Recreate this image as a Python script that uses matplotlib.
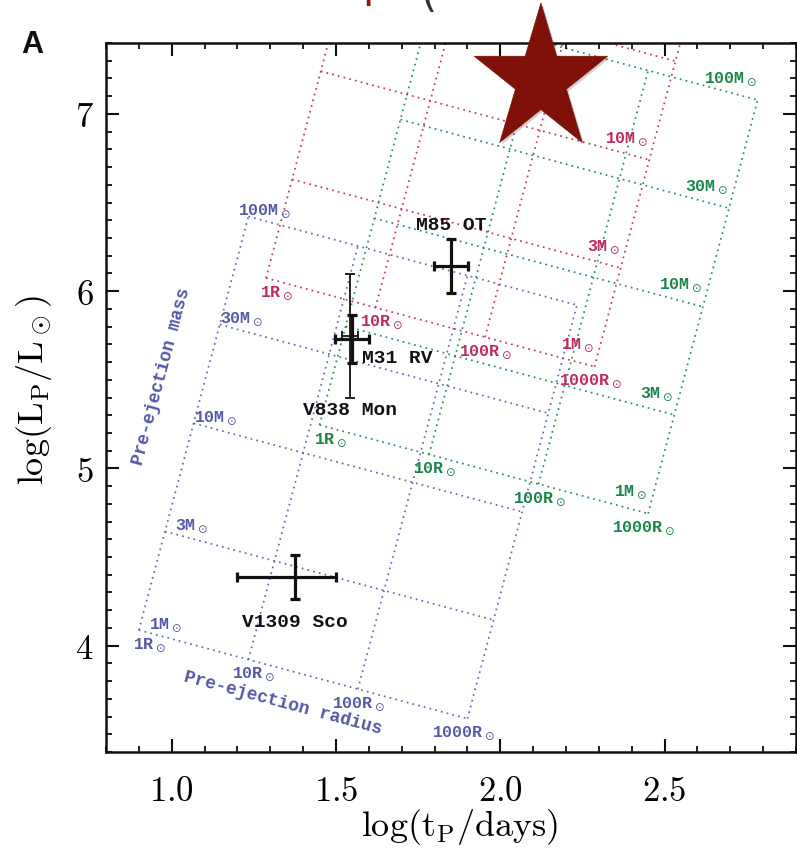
import numpy as np
import matplotlib; matplotlib.use("Agg")
import matplotlib.pyplot as plt
import matplotlib.patheffects as pe
from matplotlib.path import Path
from matplotlib.ticker import MultipleLocator

plt.rcParams["mathtext.fontset"] = "cm"

# pre-ejection grid values
MASSES = [1, 3, 10, 30, 100]          # Msun
RADII = [1, 10, 100, 1000]            # Rsun
# zero points (log t_p, log L_p) of each grid at 1 Msun, 1 Rsun
GRID_T0 = [0.900, 1.287, 1.450]
GRID_L0 = [4.088, 6.074, 5.245]
GRID_COLORS = ["#6468b8", "#cc3068", "#22915a"]
LABEL_COLORS = ["#5558a8", "#c0285e", "#1a8548"]

# observed transients
NAMES = ["V838 Mon", "M31 RV", "M85 OT", "V1309 Sco"]
LOG_T = [1.5425, 1.549, 1.850, 1.375]
LOG_T_LO = [0.025, 0.052, 0.053, 0.175]
LOG_T_HI = [0.025, 0.052, 0.053, 0.125]
LOG_L = [5.747, 5.730, 6.142, 4.387]
LOG_L_ERR = [0.350, 0.135, 0.150, 0.125]

XTICKS = [1.0, 1.5, 2.0, 2.5]
YTICKS = [4, 5, 6, 7]

INK = "#111111"
MONO = "Liberation Mono"


def plateau(t0, l0, m, r):
    """Popov plateau scaling with E ~ M^2/R: t ~ M^(1/6) R^(1/3), L ~ M^(7/6) R^(-1/6)."""
    lm, lr = np.log10(m), np.log10(r)
    return t0 + lm / 6.0 + lr / 3.0, l0 + 7.0 * lm / 6.0 - lr / 6.0


def grid_label(ax, text, xy, off, color):
    ax.annotate(text, xy, xytext=off, textcoords="offset points", ha="right", va="center",
                fontsize=12, family=MONO, fontweight="bold", color=color, clip_on=True,
                math_fontfamily="dejavusans")


fig = plt.figure(figsize=(7.97, 8.5), dpi=100)
ax = fig.add_axes([0.133, 0.1153, 0.8657, 0.8341])
ax.set_xlim(0.8, 2.9)
ax.set_ylim(3.4, 7.4)

dots = (0, (1, 2.4))
for g, (t0, l0) in enumerate(zip(GRID_T0, GRID_L0)):
    col, lcol = GRID_COLORS[g], LABEL_COLORS[g]
    r_ends = np.array([RADII[0], RADII[-1]], float)
    m_ends = np.array([MASSES[0], MASSES[-1]], float)
    for m in MASSES:
        x, y = plateau(t0, l0, m, r_ends)
        ax.plot(x, y, ls=dots, lw=1.25, color=col, zorder=1)
    for r in RADII:
        x, y = plateau(t0, l0, m_ends, r)
        ax.plot(x, y, ls=dots, lw=1.25, color=col, zorder=1)

    # radius labels under the lowest-mass line
    for r in RADII:
        x, y = plateau(t0, l0, MASSES[0], r)
        grid_label(ax, f"{r}R$_\\odot$", (x, y), (19.5, -10.8), lcol)
    # mass labels: left end for the first grid, right end for the others
    for m in MASSES:
        if g == 0:
            x, y = plateau(t0, l0, m, RADII[0])
            off, dl = (31.0, 3.6), 0.03
        else:
            x, y = plateau(t0, l0, m, RADII[-1])
            off, dl = (-0.7, 15.1), 0.118
        if not (ax.get_ylim()[0] < y + dl < ax.get_ylim()[1]):
            continue
        grid_label(ax, f"{m}M$_\\odot$", (x, y), off, lcol)

ax.text(0.970, 5.516, "Pre-ejection mass", rotation=75, ha="center", va="center",
        rotation_mode="anchor", fontsize=13, family=MONO, fontweight="bold", color=LABEL_COLORS[0])
ax.text(1.339, 3.676, "Pre-ejection radius", rotation=-15, ha="center", va="center",
        rotation_mode="anchor", fontsize=13, family=MONO, fontweight="bold", color=LABEL_COLORS[0])

# transients with error bars
label_off = {"V838 Mon": (0, -53.3, "center"), "M31 RV": (7.2, -13.7, "left"),
             "M85 OT": (0, 29.5, "center"), "V1309 Sco": (0, -32.4, "center")}
for name, t, tlo, thi, l, lerr in zip(NAMES, LOG_T, LOG_T_LO, LOG_T_HI, LOG_L, LOG_L_ERR):
    lw = 1.3 if name == "V838 Mon" else 2.3
    ax.errorbar([t], [l], xerr=[[tlo], [thi]], yerr=[[lerr], [lerr]], fmt="none",
                ecolor=INK, elinewidth=lw, capsize=3.5, capthick=lw, zorder=5)
    dx, dy, ha = label_off[name]
    ax.annotate(name, (t, l), xytext=(dx, dy), textcoords="offset points", ha=ha, va="center",
                fontsize=14, family=MONO, fontweight="bold", color=INK, zorder=6)

# axes styling
ax.set_xticks(XTICKS)
ax.set_xticklabels([f"$\\mathrm{{{v:.1f}}}$" for v in XTICKS])
ax.set_yticks(YTICKS)
ax.set_yticklabels([f"$\\mathrm{{{v}}}$" for v in YTICKS])
ax.xaxis.set_minor_locator(MultipleLocator(0.1))
ax.yaxis.set_minor_locator(MultipleLocator(0.1))
ax.tick_params(which="both", direction="in", top=True, right=True, color=INK)
ax.tick_params(which="major", length=9.5, width=1.5, labelsize=25)
ax.tick_params(which="minor", length=4.5, width=1.3)
ax.tick_params(axis="x", which="major", pad=16)
ax.tick_params(axis="y", which="major", pad=9)
for s in ax.spines.values():
    s.set_linewidth(1.8)
    s.set_color(INK)

ax.set_xlabel(r"$\mathrm{log(t_P/days)}$", fontsize=26)
ax.set_ylabel(r"$\mathrm{log(L_P/L_\odot)}$", fontsize=26)
ax.xaxis.set_label_coords(0.512, -0.078)
ax.yaxis.set_label_coords(-0.075, 0.51)

# highlight star
star = Path.unit_regular_star(5, 0.382)
star = Path(star.vertices * [1.0, 1.1], star.codes)
ax.plot([2.1238], [7.191], marker=star, ms=111, color="#7f1108", mec="#7f1108", mew=0.5,
        ls="none", clip_on=False, zorder=10,
        path_effects=[pe.withSimplePatchShadow(offset=(1.5, -1.5), shadow_rgbFace="k", alpha=0.18)])

fig.text(0.027, 0.9376, "A", fontsize=22, fontweight="bold", family="Liberation Sans", color=INK)
# bottom of the slide heading above the panel
fig.text(0.455, 1.0035, "p", fontsize=30, color="#a01010", va="baseline")
fig.text(0.528, 0.992, "(", fontsize=30, color="#333333", va="baseline")

fig.savefig("out.png", dpi=100, facecolor="white")
